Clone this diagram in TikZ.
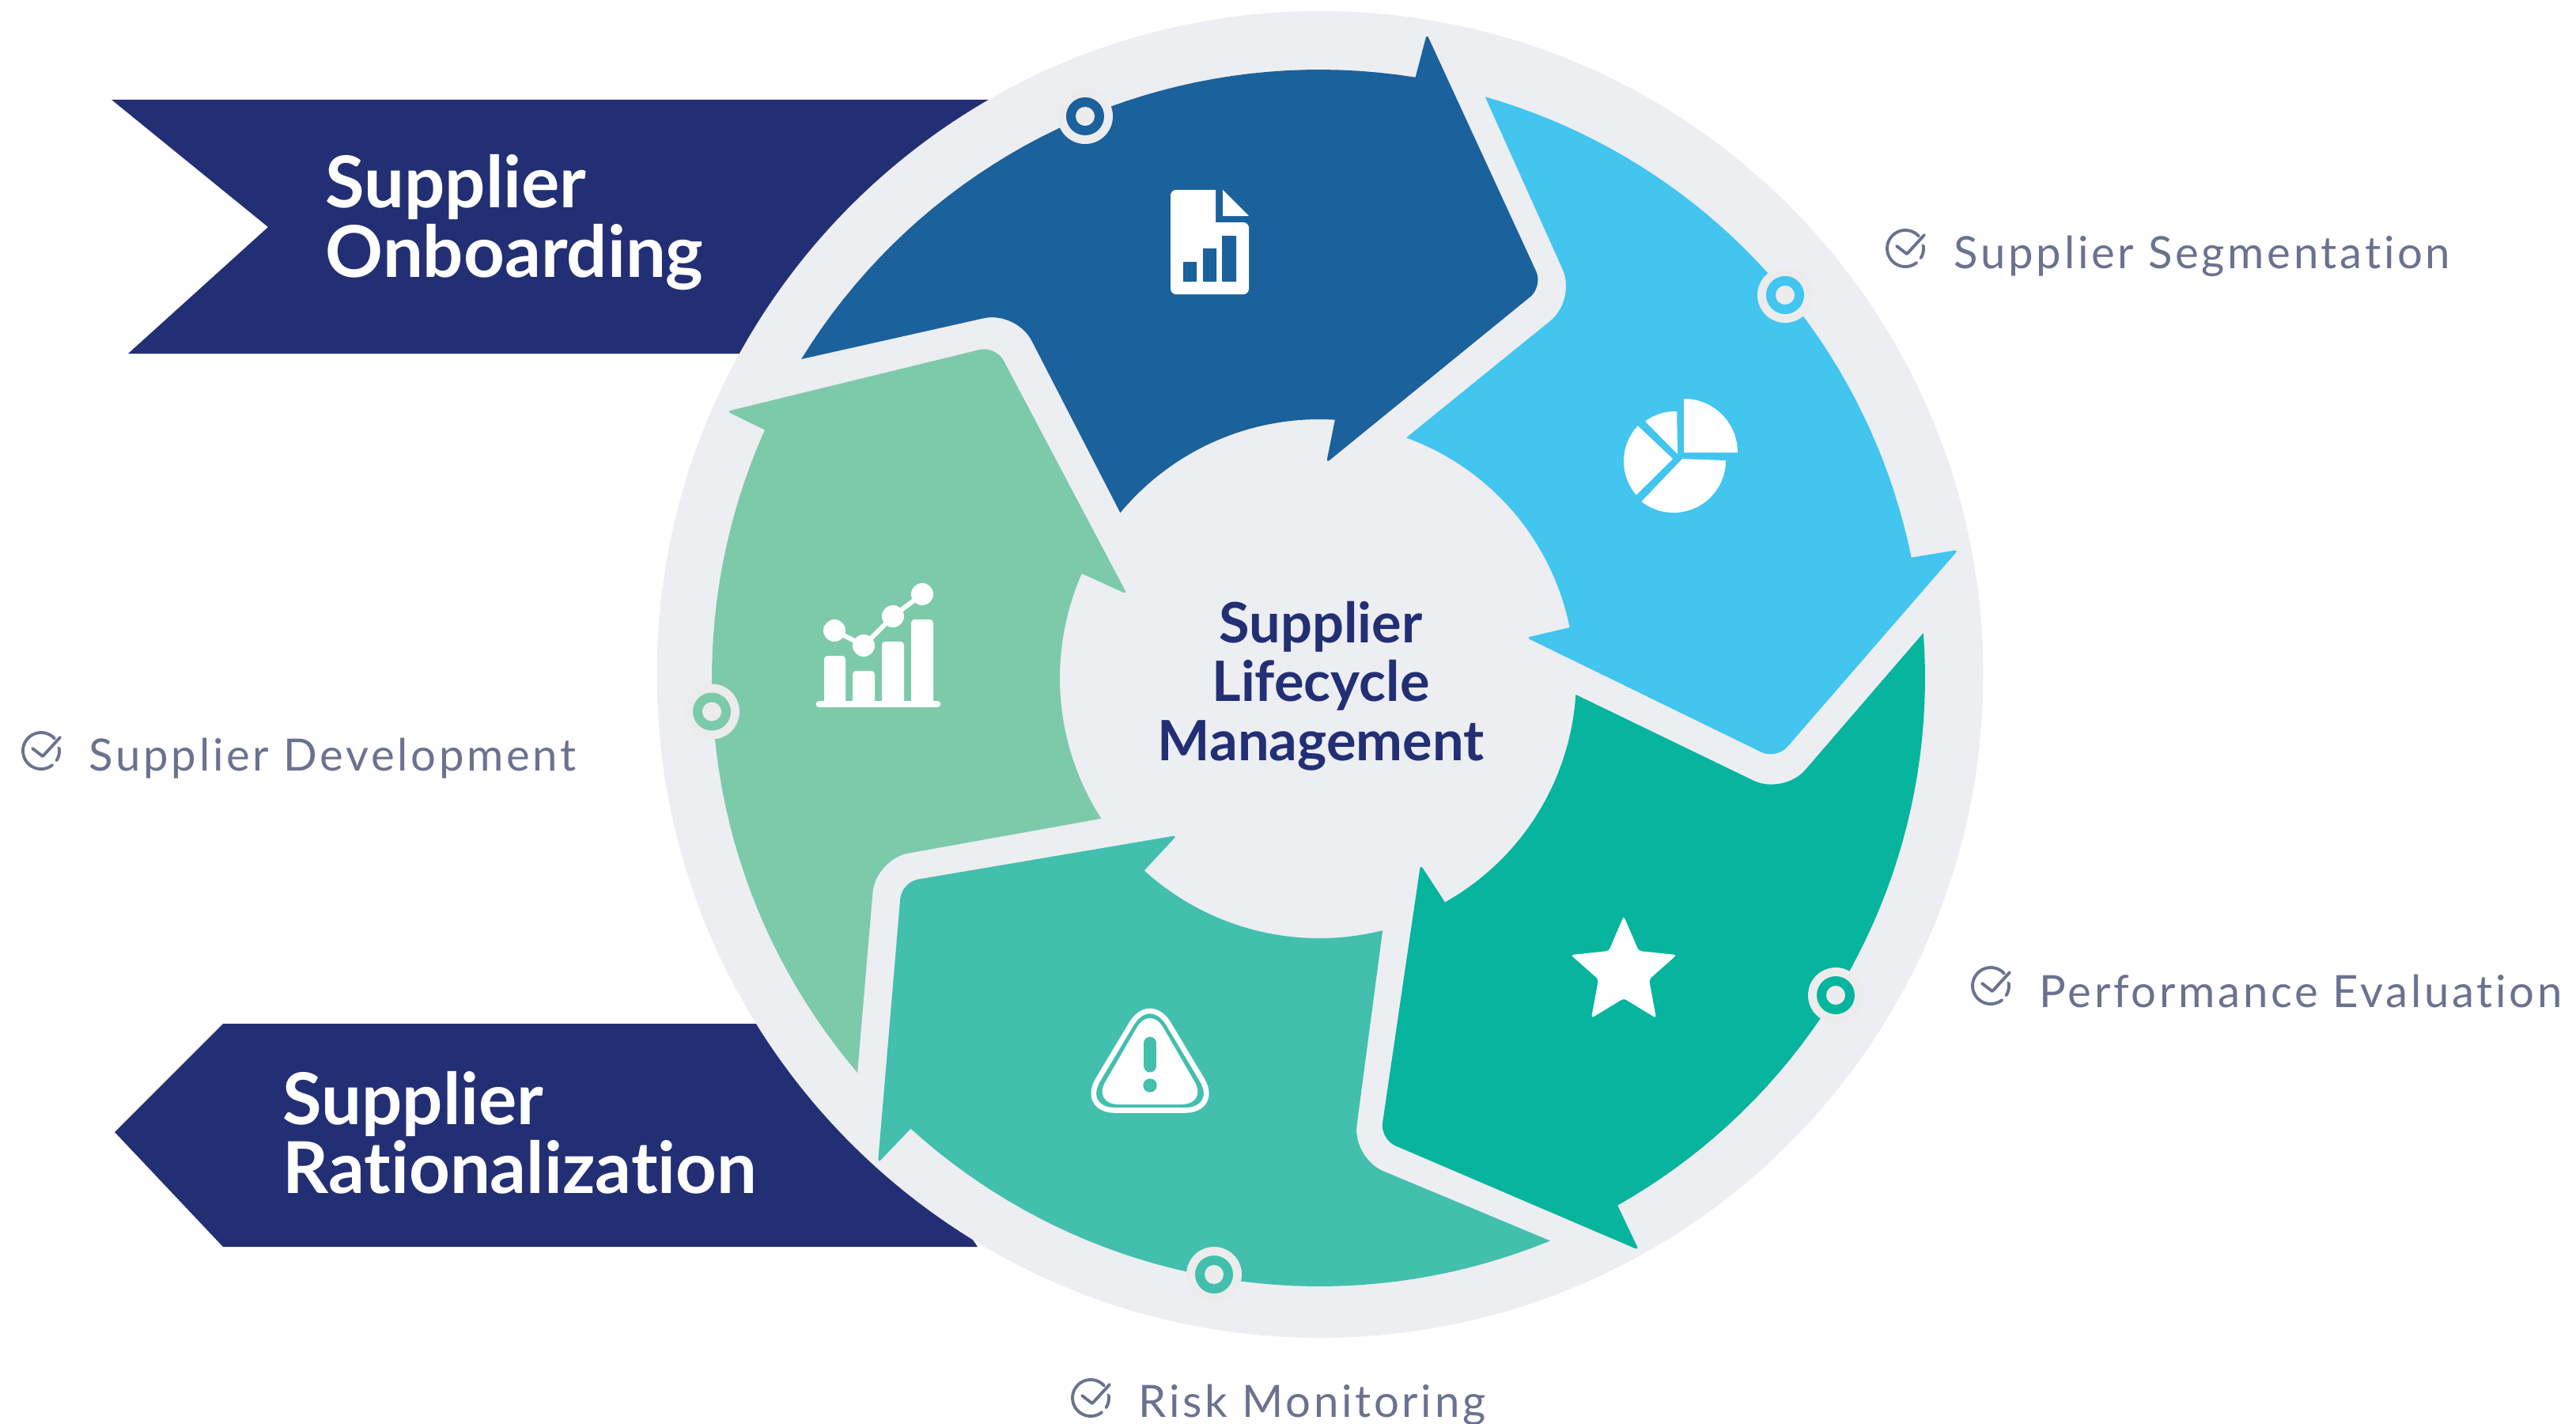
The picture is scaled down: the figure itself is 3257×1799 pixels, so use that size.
\documentclass[tikz,border=0pt]{standalone}
\usepackage{fontspec}
\setmainfont[Ligatures=NoCommon]{Lato}
\newfontfamily\labelfont[LetterSpace=6.6,Ligatures=NoCommon]{Lato}
\definecolor{navyband}{HTML}{232F74}
\definecolor{ringgrey}{HTML}{ECEEF2}
\definecolor{dotgrey}{HTML}{ECECEC}
\definecolor{labelgrey}{HTML}{6B7290}
\definecolor{onboardblue}{HTML}{1B619C}
\definecolor{segmentblue}{HTML}{42C5EF}
\definecolor{evalteal}{HTML}{07B49E}
\definecolor{riskgreen}{HTML}{43BFAD}
\definecolor{devmint}{HTML}{7DCAAB}
% one piece of a circle, as a polyline
\newcommand{\sweep}[5]{-- plot[domain=#4:#5,samples=40] ({#1+#3*cos(\x)},{#2+#3*sin(\x)})}
\newcommand{\ringarc}[3]{\sweep{1668}{857}{#1}{#2}{#3}}
\tikzset{
  bandlabel/.style={anchor=west,align=left,inner sep=0pt,text=white,
    font=\fontsize{25.7}{24.8}\selectfont\bfseries},
  hublabel/.style={align=center,inner sep=0pt,text=navyband,
    font=\fontsize{20}{21.2}\selectfont\bfseries},
  steplabel/.style={anchor=west,inner sep=0pt,text=labelgrey,
    font=\fontsize{16}{18}\labelfont},
  checkring/.pic={
    \draw[labelgrey,line width=1.1pt,line cap=round]
      (14.2,18.1) \sweep{0}{0}{23}{52}{318};
    \draw[labelgrey,line width=1.1pt,line cap=round]
      (22.8,-3.2) \sweep{0}{0}{23}{-8}{32};
    \draw[labelgrey,line width=1.1pt,line cap=round,line join=round]
      (-11,-3) -- (2,7) -- (24,-17);
  }
}
\begin{document}
\begin{tikzpicture}[x=0.01cm,y=-0.01cm]
  \useasboundingbox (0,0) rectangle (3257,1799);
  \fill[navyband] (141,126) -- (1400,126) -- (1100,447) -- (162,447) -- (339,287) -- cycle;
  \fill[navyband] (282,1294) -- (1100,1294) -- (1150,1450) -- (1236,1576) -- (282,1576) -- (145,1431) -- cycle;
  \fill[ringgrey] (1669,852.5) circle[radius=838.5];

  \fill[onboardblue] (1013,454) \ringarc{769}{211.6}{279.1} [rounded corners=1.5pt] -- (1804,43)
    [rounded corners=6pt] -- (1951,362) [rounded corners=1.5pt] -- (1677,585) [sharp corners] -- (1688,530)
    \ringarc{327}{273.5}{219.7} [rounded corners=12pt] -- (1285,393) [sharp corners] -- cycle;
  \fill[segmentblue] (1878,123) \ringarc{764}{-74}{-11.5} [rounded corners=1.5pt] -- (2476,695)
    [rounded corners=6pt] -- (2246,960) [rounded corners=1.5pt] -- (1930,806) [sharp corners] -- (1985,793)
    \ringarc{323}{-11.4}{-70.1} [rounded corners=12pt] -- (1993,379) [sharp corners] -- cycle;
  \fill[evalteal] (2431,801) \ringarc{766}{-4.2}{60.5} [rounded corners=1.5pt] -- (2072,1580)
    [rounded corners=6pt] -- (1745,1440) [rounded corners=1.5pt] -- (1796,1093) [sharp corners] -- (1828,1142)
    \ringarc{325}{60.7}{3.7} [rounded corners=12pt] -- (2255,1005) [sharp corners] -- cycle;
  \fill[riskgreen] (1959,1568) \ringarc{769}{67.7}{132.2} [rounded corners=1.5pt] -- (1110,1470)
    [rounded corners=6pt] -- (1140,1115) [rounded corners=1.5pt] -- (1488,1056) [sharp corners] -- (1447,1100)
    \ringarc{329}{132.2}{75.9} [rounded corners=12pt] -- (1710,1464) [sharp corners] -- cycle;
  \fill[devmint] (1084,1357) \ringarc{768}{139.4}{204.1} [rounded corners=1.5pt] -- (919,520)
    [rounded corners=6pt] -- (1259,437) [rounded corners=1.5pt] -- (1425,751) [sharp corners] -- (1370,726)
    \ringarc{328}{203.7}{147.2} [rounded corners=12pt] -- (1107,1086) [sharp corners] -- cycle;

  \foreach \dx/\dy/\dcol in {1372/147/onboardblue,2257/373/segmentblue,2321/1258/evalteal,1535/1611/riskgreen,900/899.5/devmint} {
    \fill[dotgrey] (\dx,\dy) circle[radius=35];
    \fill[\dcol] (\dx,\dy) circle[radius=24];
    \fill[dotgrey] (\dx,\dy) circle[radius=12];
  }

  % sheet with bars
  \fill[white,rounded corners=2pt] (1537,240) -- (1480,240) -- (1480,372) -- (1579,372) -- (1579,281)
    [sharp corners] -- (1537,281) -- cycle;
  \fill[white] (1546,240) -- (1546,273) -- (1579,273) -- cycle;
  \fill[onboardblue] (1496,331) rectangle (1513,356) (1521,314) rectangle (1538,356) (1545,298) rectangle (1563,356);

  % pie
  \fill[white] (2129,572) \sweep{2129}{572}{68}{-90}{0} -- cycle;
  \fill[white] (2127,580) \sweep{2116}{582}{66}{0}{128} -- cycle;
  \fill[white] (2115,580) \sweep{2118}{583}{65}{223.5}{139} -- cycle;
  \fill[white] (2121,574) \sweep{2118}{583}{63}{272}{233} -- cycle;

  % star
  \fill[white,rounded corners=1pt] (2053,1158) -- (2072,1202) -- (2120,1207) -- (2085,1238) -- (2094,1287)
    -- (2053,1262) -- (2012,1287) -- (2021,1238) -- (1986,1207) -- (2034,1202) -- cycle;

  % warning sign
  \fill[white,rounded corners=9.5pt] (1381,1396) -- (1527,1396) -- (1454,1270) -- cycle;
  \draw[white,line width=1.9pt,rounded corners=13pt] (1365,1403.5) -- (1543,1403.5) -- (1454,1255) -- cycle;
  \draw[riskgreen,line width=4.8pt,line cap=round] (1454,1319) -- (1454,1347);
  \fill[riskgreen] (1454,1372) circle[radius=8.7];

  % chart
  \fill[white,rounded corners=1.2pt] (1042,890) -- (1042,829) -- (1069,829) -- (1069,890) -- cycle;
  \fill[white,rounded corners=1.2pt] (1078,890) -- (1078,848) -- (1106,848) -- (1106,890) -- cycle;
  \fill[white,rounded corners=1.2pt] (1115,890) -- (1115,811) -- (1143,811) -- (1143,890) -- cycle;
  \fill[white,rounded corners=1.2pt] (1152,890) -- (1152,783) -- (1180,783) -- (1180,890) -- cycle;
  \draw[white,line width=2.5pt,line cap=round] (1036,890) -- (1185,890);
  \draw[white,line width=1.7pt] (1055,797) -- (1092,816) -- (1129,779) -- (1166,751);
  \foreach \px/\py in {1055/797,1092/816,1129/779,1166/751}
    \fill[white] (\px,\py) circle[radius=14];

  \node[bandlabel] (onboarding) at (411,281) {Supplier\\Onboarding};
  \node[bandlabel] (rationalization) at (357,1432) {Supplier\\Rationalization};
  \node[hublabel] (hub) at (1670,867) {Supplier\\Lifecycle\\Management};

  \foreach \cxx/\cyy in {2409/314,2517/1246,1379/1767,52/949}
    \pic at (\cxx,\cyy) {checkring};
  \node[steplabel] (segmentation) at (2470,324) {Supplier Segmentation};
  \node[steplabel] (evaluation) at (2578,1253) {Performance Evaluation};
  \node[steplabel] (monitoring) at (1439,1776) {Risk Monitoring};
  \node[steplabel] (development) at (112,959) {Supplier Development};
\end{tikzpicture}
\end{document}
